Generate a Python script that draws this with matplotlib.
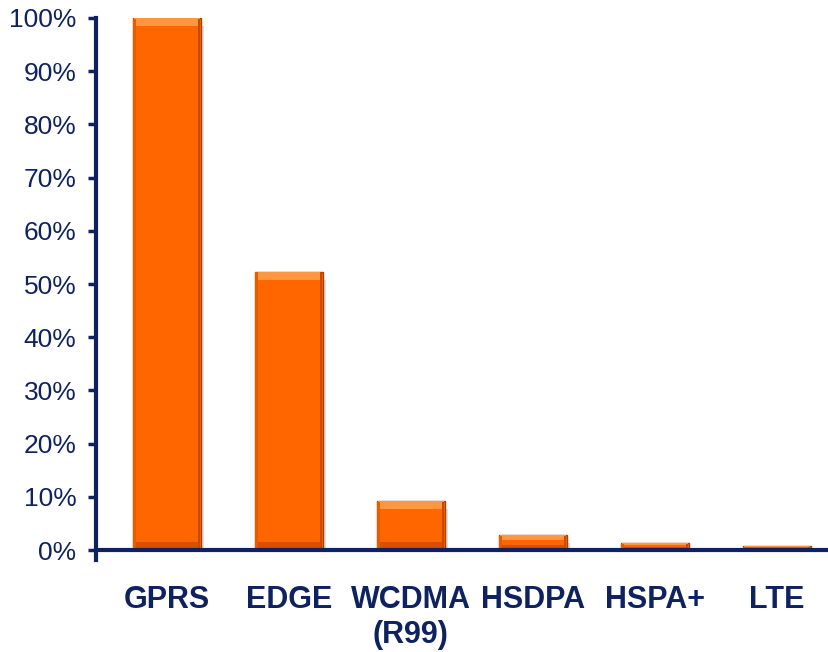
import matplotlib.pyplot as plt
import numpy as np
from matplotlib.ticker import PercentFormatter

NAVY = '#0f2260'
ORANGE = '#ff6600'

technologies = ['GPRS', 'EDGE', 'WCDMA\n(R99)', 'HSDPA', 'HSPA+', 'LTE']
relative_cost = [100, 52.3, 9.2, 2.8, 1.3, 0.7]
y_ticks = [0, 10, 20, 30, 40, 50, 60, 70, 80, 90, 100]

plt.rcParams['font.family'] = ['Liberation Sans', 'DejaVu Sans']

fig = plt.figure(figsize=(8.29, 6.52), dpi=100)
ax = fig.add_axes([0.1158, 0.1564, 0.883, 0.816])

x = np.arange(len(technologies))
width = 0.56
vals = np.array(relative_cost)

# soft drop shadow
ax.bar(x + 0.025, vals, width, bottom=-1.5, color='#000000', alpha=0.13,
       zorder=1, linewidth=0)
# main bars
ax.bar(x, vals, width, color=ORANGE, edgecolor='#a84000', linewidth=1.0,
       zorder=2)
# bevel: light top, darker bottom and sides
bevel = np.minimum(vals * 0.3, 1.5)
ax.bar(x, bevel, width * 0.97, bottom=vals - bevel, color='#ff9640', linewidth=0,
       zorder=3)
ax.bar(x, bevel, width * 0.97, bottom=0.1, color='#d65000', linewidth=0, zorder=3)
ax.bar(x + width * 0.47, vals - 0.2, width * 0.04, bottom=0.1, color='#c84a00',
       linewidth=0, zorder=3)
ax.bar(x - width * 0.47, vals - 0.2, width * 0.04, bottom=0.1, color='#e85c00',
       linewidth=0, zorder=3)

ax.set_xlim(-0.58, len(technologies) - 0.58)
ax.set_ylim(0, 100)
ax.set_yticks(y_ticks)
ax.yaxis.set_major_formatter(PercentFormatter(decimals=0))
ax.set_xticks(x)
ax.set_xticklabels(technologies, fontsize=22, fontweight='bold', color=NAVY,
                   linespacing=1.22, va='top')
ax.tick_params(axis='x', length=0, pad=25)
ax.tick_params(axis='y', length=6, width=2.5, color=NAVY, labelsize=19,
               labelcolor=NAVY, pad=8)

for side in ['top', 'right']:
    ax.spines[side].set_visible(False)
for side in ['left', 'bottom']:
    ax.spines[side].set_color(NAVY)
    ax.spines[side].set_linewidth(3)
ax.spines['bottom'].set_zorder(5)
ax.spines['left'].set_bounds(-1.8, 100)
ax.spines['left'].set_clip_on(False)

plt.savefig('out.png', dpi=100)
